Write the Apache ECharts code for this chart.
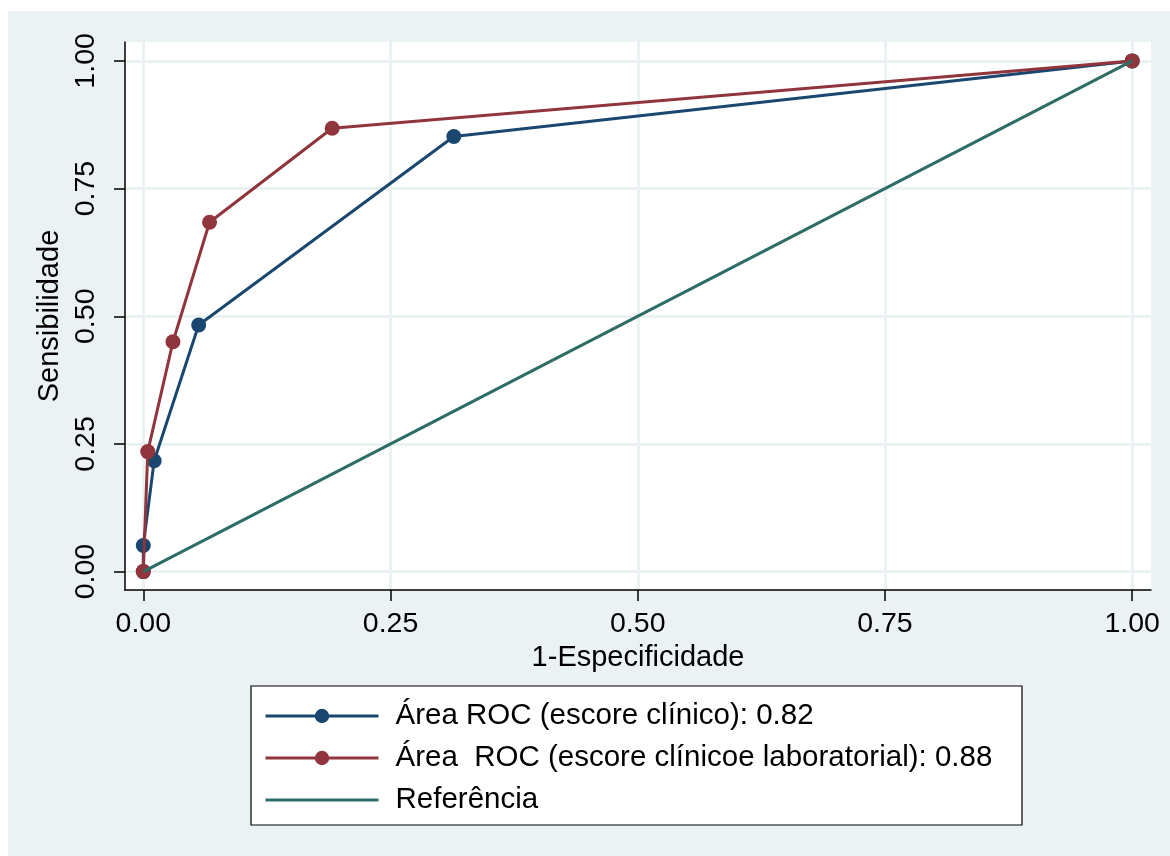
<!DOCTYPE html>
<html>
<head>
<meta charset="utf-8">
<script src="https://cdn.jsdelivr.net/npm/echarts@6/dist/echarts.min.js"></script>
<style>
  html, body { margin: 0; padding: 0; background: #fff; }
  #bg { position: absolute; left: 8px; top: 11px; width: 1162px; height: 845px; background: #eaf2f3; }
  #chart { position: absolute; left: 0; top: 0; width: 1170px; height: 856px; }
</style>
</head>
<body>
<div id="bg"></div>
<div id="chart"></div>
<script>
// ROC points
const fprClinico = [0, 0, 0.011, 0.056, 0.314, 1];
const sensClinico = [0, 0.051, 0.217, 0.483, 0.852, 1];
const fprLab = [0, 0.0045, 0.030, 0.067, 0.191, 1];
const sensLab = [0, 0.235, 0.450, 0.684, 0.868, 1];
const refX = [0, 1];
const refY = [0, 1];
const ticks = [0, 0.25, 0.5, 0.75, 1];
const names = [
  "Área ROC (escore clínico): 0.82",
  "Área  ROC (escore clínicoe laboratorial): 0.88",
  "Referência"
];

const FONT = "Liberation Sans";
const zip = (xs, ys) => xs.map((x, i) => [x, ys[i]]);

const gridLines = ticks.map(v => ({ xAxis: v })).concat(ticks.map(v => ({ yAxis: v })));

const chart = echarts.init(document.getElementById("chart"));
chart.setOption({
  animation: false,
  backgroundColor: "transparent",
  textStyle: { fontFamily: FONT },
  grid: {
    left: 125, top: 42, right: 19, bottom: 266,
    show: true, backgroundColor: "#fff", borderWidth: 0
  },
  graphic: [{
    type: "rect",
    shape: { x: 251, y: 686, width: 771, height: 139 },
    style: { fill: "#fff", stroke: "#000", lineWidth: 1.2 },
    z: 1
  }],
  legend: {
    orient: "vertical",
    left: 264, top: 701,
    padding: 0,
    itemWidth: 113, itemHeight: 18, itemGap: 12,
    lineStyle: { width: 3 },
    textStyle: { fontFamily: FONT, fontSize: 29.5, color: "#000", lineHeight: 30, padding: [0, 0, 0, 12] },
    data: [
      names[0],
      names[1],
      { name: names[2], itemStyle: { opacity: 0 } }
    ]
  },
  xAxis: {
    type: "value", min: -0.0185, max: 1.019,
    name: "1-Especificidade", nameLocation: "middle", nameGap: 53,
    nameTextStyle: { fontFamily: FONT, fontSize: 29, color: "#000" },
    axisLine: { onZero: false, lineStyle: { color: "#000", width: 1.5 } },
    axisTick: { customValues: ticks, length: 11, lineStyle: { color: "#000", width: 1.5 } },
    axisLabel: { customValues: ticks, formatter: v => v.toFixed(2), fontFamily: FONT, fontSize: 28.5, color: "#000", margin: 20 },
    splitLine: { show: false }
  },
  yAxis: {
    type: "value", min: -0.036, max: 1.037,
    name: "Sensibilidade", nameLocation: "middle", nameGap: 56,
    nameTextStyle: { fontFamily: FONT, fontSize: 29, color: "#000" },
    axisLine: { onZero: false, lineStyle: { color: "#000", width: 1.5 } },
    axisTick: { customValues: ticks, length: 11, lineStyle: { color: "#000", width: 1.5 } },
    axisLabel: { customValues: ticks, formatter: v => v.toFixed(2), rotate: 90, fontFamily: FONT, fontSize: 28.5, color: "#000", margin: 24 },
    splitLine: { show: false }
  },
  series: [
    {
      type: "line", name: "grid", data: [], z: 0, silent: true,
      markLine: {
        silent: true, symbol: "none", label: { show: false }, z: 0,
        lineStyle: { color: "#eaf2f3", width: 3, type: "solid" },
        emphasis: { disabled: true },
        data: gridLines, animation: false
      }
    },
    {
      type: "line", name: names[0], data: zip(fprClinico, sensClinico),
      color: "#1a476f", symbol: "circle", symbolSize: 15,
      lineStyle: { width: 3 }, z: 2
    },
    {
      type: "line", name: names[1], data: zip(fprLab, sensLab),
      color: "#90353b", symbol: "circle", symbolSize: 15,
      lineStyle: { width: 3 }, z: 3
    },
    {
      type: "line", name: names[2], data: zip(refX, refY),
      color: "#2d6d66", symbol: "none",
      lineStyle: { width: 3 }, z: 4
    }
  ]
});
</script>
</body>
</html>
